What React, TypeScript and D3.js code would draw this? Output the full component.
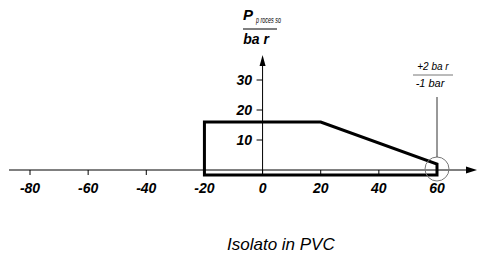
import React from 'react';
import * as d3 from 'd3';

const xTicks = [-80, -60, -40, -20, 0, 20, 40, 60];
const yTicks = [10, 20, 30];
// pressure profile (bar) against temperature
const profileX = [-20, -20, 20, 60, 60];
const profileY = [-1.7, 16, 16, 2, -1.7];
const yAxisTitle = 'P';
const yAxisSub = 'p roces so';
const yAxisUnit = 'ba r';
const toleranceTop = '+2 ba r';
const toleranceBottom = '-1 bar';
const caption = 'Isolato in PVC';

const W = 477;
const H = 256;
const font = '"Liberation Sans", Arial, sans-serif';

const App: React.FC = () => {
  const x = d3.scaleLinear().domain([-80, 60]).range([30, 437]);
  const y = d3.scaleLinear().domain([0, 30]).range([170, 80]);

  const pts: [number, number][] = profileX.map((v, i) => [x(v), y(profileY[i])]);
  const line = d3.line().curve(d3.curveLinearClosed);

  const x0 = x(0);
  const y0 = y(0);
  const cx = x(60);

  return (
    <svg width={W} height={H} style={{ position: 'absolute', left: 0, top: 0, background: '#fff' }}>
      {/* x axis */}
      <line x1={9} x2={468} y1={y0} y2={y0} stroke="#000" strokeWidth={1} />
      <path d={`M466,${y0 - 3.5} L477,${y0} L466,${y0 + 3.5} Z`} fill="#000" />
      {xTicks.map(t => (
        <g key={t}>
          <line x1={x(t)} x2={x(t)} y1={y0} y2={y0 + 5} stroke="#000" />
          <text x={x(t)} y={193} textAnchor="middle" fontFamily={font} fontSize={14}
            fontWeight="bold" fontStyle="italic">{t}</text>
        </g>
      ))}

      {/* y axis */}
      <line x1={x0} x2={x0} y1={64} y2={y(-1.7)} stroke="#000" strokeWidth={1} />
      <path d={`M${x0 - 3},${66} L${x0},${55} L${x0 + 3},${66} Z`} fill="#000" />
      {yTicks.map(t => (
        <g key={t}>
          <line x1={x0 - 6} x2={x0} y1={y(t)} y2={y(t)} stroke="#000" />
          <text x={252} y={y(t) + 5} textAnchor="end" fontFamily={font} fontSize={14}
            fontWeight="bold" fontStyle="italic">{t}</text>
        </g>
      ))}

      {/* y axis title */}
      <text x={243} y={20} fontFamily={font} fontStyle="italic" fill="#000">
        <tspan fontSize={15} fontWeight="bold">{yAxisTitle}</tspan>
      </text>
      <text x={256} y={23} fontFamily={font} fontStyle="italic" fontSize={9}
        textLength={25} lengthAdjust="spacingAndGlyphs">{yAxisSub}</text>
      <line x1={243} x2={277} y1={29} y2={29} stroke="#555" strokeWidth={1.5} />
      <text x={256} y={44} textAnchor="middle" fontFamily={font} fontSize={14}
        fontWeight="bold" fontStyle="italic">{yAxisUnit}</text>

      {/* profile */}
      <path d={line(pts) || ''} fill="none" stroke="#000" strokeWidth={3} strokeLinejoin="miter" />

      {/* tolerance marker */}
      <circle cx={cx} cy={y0 - 1} r={12} fill="none" stroke="#777" strokeWidth={1} />
      <line x1={cx} x2={cx} y1={97} y2={y0 - 13} stroke="#333" strokeWidth={1} />
      <text x={433} y={70} textAnchor="middle" fontFamily={font} fontSize={10}
        fontStyle="italic">{toleranceTop}</text>
      <line x1={413} x2={453} y1={75} y2={75} stroke="#777" strokeWidth={1} />
      <text x={430} y={87} textAnchor="middle" fontFamily={font} fontSize={11}
        fontStyle="italic">{toleranceBottom}</text>

      {/* caption */}
      <text x={227} y={250} fontFamily={font} fontSize={17} fontStyle="italic">{caption}</text>
    </svg>
  );
};

export default App;
